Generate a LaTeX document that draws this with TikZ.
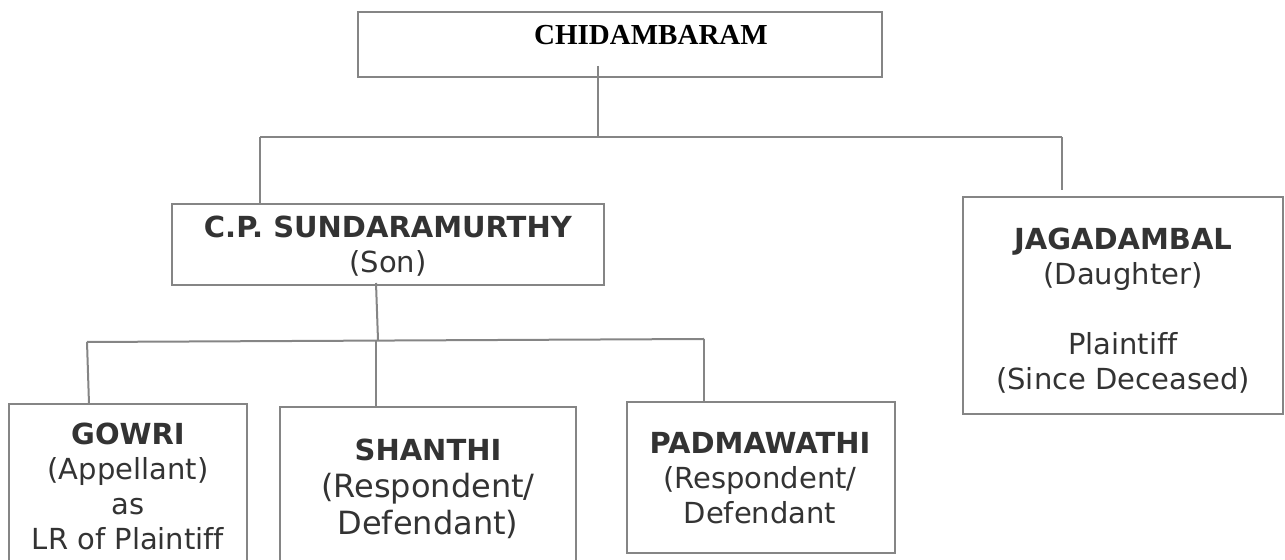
\documentclass[tikz,border=0pt]{standalone}
\usepackage{fontspec}
\setmainfont[Ligatures=NoCommon]{DejaVu Sans}
\newfontfamily\headserif{Liberation Serif}
\usepackage{tikz}

\definecolor{rulegray}{HTML}{858585}
\definecolor{ink}{HTML}{333333}

\tikzset{
  person/.style={draw=rulegray, line width=1pt, rectangle, inner sep=0pt},
  label/.style={align=center, text=ink, font=\fontsize{14.5}{17.5}\selectfont},
  link/.style={draw=rulegray, line width=1pt}
}

\begin{document}
\begin{tikzpicture}[x=0.5pt, y=-0.5pt]
\useasboundingbox (0,0) rectangle (1285,560);
\clip (0,0) rectangle (1285,560);

% boxes, centres in px
\node[person, minimum width=262pt, minimum height=32.5pt] (chid) at (620,44.5) {};
\node[person, minimum width=216pt, minimum height=40.5pt] (son) at (388,244.5) {};
\node[person, minimum width=160pt, minimum height=108.5pt] (daughter) at (1123,305.5) {};
\node[person, minimum width=119pt, minimum height=98pt] (gowri) at (128,502) {};
\node[person, minimum width=148pt, minimum height=96.5pt] (shanthi) at (428,503.5) {};
\node[person, minimum width=134pt, minimum height=75.5pt] (padma) at (761,477.5) {};

% texts
\node[text=black, font=\headserif\bfseries\fontsize{14.5}{17.5}\selectfont] (chidtext) at (651,35) {CHIDAMBARAM};
\node[label] (sontext) at (388,246) {\textbf{C.P. SUNDARAMURTHY}\\(Son)};
\node[label] (daughtertext) at (1123,311) {\textbf{JAGADAMBAL}\\(Daughter)\\[17.5pt]Plaintiff\\(Since Deceased)};
\node[label] (gowritext) at (128,486) {\textbf{GOWRI}\\(Appellant)\\as\\LR of Plaintiff};
\node[label, font=\fontsize{16}{18.5}\selectfont] (shanthitext) at (428,489) {{\fontsize{14.5}{17.5}\selectfont\textbf{SHANTHI}}\\(Respondent/\\Defendant)};
\node[label] (padmatext) at (760,478) {\textbf{PADMAWATHI}\\(Respondent/\\Defendant};

% first generation
\coordinate (chidstem) at (598,66);
\coordinate (topjoin) at (598,138);
\coordinate (topL) at (260,137);
\coordinate (topR) at (1062,137);
\draw[link] (chidstem) -- (topjoin);
\draw[link] (topL) -- (topR);
\draw[link] (topL) -- (topL |- son.north);
\draw[link, shorten >=3pt] (topR) -- (topR |- daughter.north);% stops short of the box

% second generation
\coordinate (sonstem) at (376,283);
\coordinate (lowjoin) at (378,340);
\coordinate (lowL) at (87,342);
\coordinate (lowM) at (376,340);
\coordinate (lowR) at (704,339);
\coordinate (gowritop) at (89,404);
\draw[link] (sonstem) -- (lowjoin);
\draw[link] (lowL) -- (lowR);
\draw[link] (lowL) -- (gowritop);
\draw[link] (lowM) -- (lowM |- shanthi.north);
\draw[link] (lowR) -- (lowR |- padma.north);
\end{tikzpicture}
\end{document}
